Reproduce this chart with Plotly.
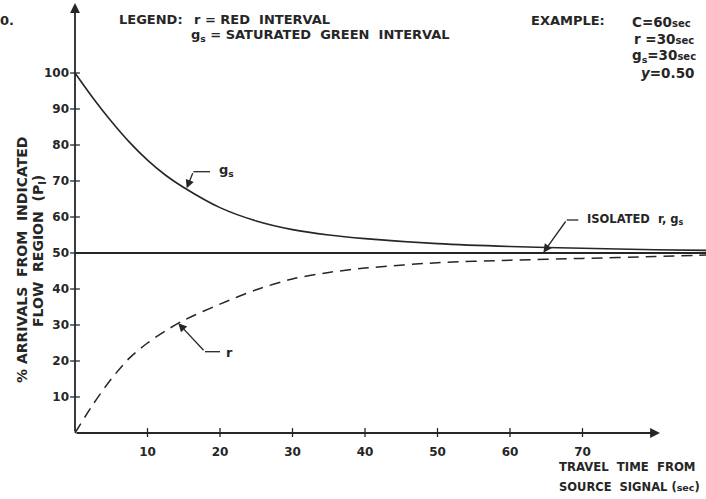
import plotly.graph_objects as go

# ---------------- data ----------------
time_s = [0, 2.5, 5, 7.5, 10, 12.5, 15, 20, 25, 30, 35, 40, 50, 60, 70, 80, 88]
pct_green = [100, 93.0, 86.6, 80.8, 75.8, 71.6, 68.2, 62.6, 58.9, 56.5, 55.0, 54.0, 52.6, 51.8, 51.3, 50.9, 50.7]
pct_red = [0, 8.0, 15.0, 20.8, 25.0, 28.4, 31.3, 35.8, 39.8, 42.8, 44.6, 45.8, 47.3, 48.0, 48.5, 49.0, 49.5]
isolated_time = [0, 88]
isolated_pct = [50, 50]
x_ticks = [10, 20, 30, 40, 50, 60, 70]
y_ticks = [10, 20, 30, 40, 50, 60, 70, 80, 90, 100]

# ---------------- layout geometry ----------------
W, H = 706, 499
L, R, T, B = 70, 0, 0, 62
X0PX, XS = 75, 7.25     # pixel of x=0, pixels per second
Y0PX, YS = 433, 3.6     # pixel of y=0, pixels per percent
xr = [(L - X0PX) / XS, (W - R - X0PX) / XS]
yr = [(Y0PX - (H - B)) / YS, (Y0PX - T) / YS]


def dx(px):
    return (px - X0PX) / XS


def dy(py):
    return (Y0PX - py) / YS


def pxp(px):
    return (px - L) / (W - L - R)


def pyp(py):
    return (H - B - py) / (H - T - B)


INK = "#262626"
FONT = "DejaVu Sans"

fig = go.Figure()

fig.add_trace(go.Scatter(x=isolated_time, y=isolated_pct, mode="lines",
                         line=dict(color=INK, width=1.8), hoverinfo="skip"))
fig.add_trace(go.Scatter(x=time_s, y=pct_green, mode="lines",
                         line=dict(color=INK, width=1.6, shape="spline", smoothing=0.8),
                         hoverinfo="skip"))
fig.add_trace(go.Scatter(x=time_s, y=pct_red, mode="lines",
                         line=dict(color=INK, width=1.5, dash="11px,7px", shape="spline", smoothing=0.8),
                         hoverinfo="skip"))
# tick crosses on the axes
fig.add_trace(go.Scatter(x=[0] * len(y_ticks), y=y_ticks, mode="markers",
                         marker=dict(symbol="line-ew", size=7, line=dict(color=INK, width=1.3)),
                         hoverinfo="skip"))
fig.add_trace(go.Scatter(x=x_ticks, y=[0] * len(x_ticks), mode="markers",
                         marker=dict(symbol="line-ns", size=7, line=dict(color=INK, width=1.3)),
                         hoverinfo="skip"))

ann = []
# axis lines with arrowheads
ann.append(dict(x=0, y=dy(3), ax=0, ay=0, xref="x", yref="y", axref="x", ayref="y",
                text="", showarrow=True, arrowhead=2, arrowsize=1.1, arrowwidth=1.8, arrowcolor=INK))
ann.append(dict(x=dx(660), y=0, ax=0, ay=0, xref="x", yref="y", axref="x", ayref="y",
                text="", showarrow=True, arrowhead=2, arrowsize=1.1, arrowwidth=1.8, arrowcolor=INK))

# pointer lines (oblique part with arrowhead)
pointers = [
    ((186.7, 188.3), (193.3, 171.7), (210, 171.7)),
    ((178.3, 323.3), (205, 351.7), (220, 351.7)),
    ((543.3, 252.7), (566.7, 220), (578.3, 220)),
]
shapes = []
for tip, bend, end in pointers:
    ann.append(dict(x=dx(tip[0]), y=dy(tip[1]), ax=dx(bend[0]), ay=dy(bend[1]),
                    xref="x", yref="y", axref="x", ayref="y", text="", showarrow=True,
                    arrowhead=2, arrowsize=1.3, arrowwidth=1.3, arrowcolor=INK))
    shapes.append(dict(type="line", xref="x", yref="y", x0=dx(bend[0]), y0=dy(bend[1]),
                       x1=dx(end[0]), y1=dy(end[1]), line=dict(color=INK, width=1.3)))


def text(s, px, py, size=13, xanchor="left", textangle=0):
    ann.append(dict(x=pxp(px), y=pyp(py), xref="paper", yref="paper", text=s,
                    showarrow=False, xanchor=xanchor, yanchor="middle", textangle=textangle,
                    font=dict(family=FONT, size=size, color=INK, weight="bold")))


text("0.", -2, 21, 13)
text("LEGEND:", 117, 20, 13)
text("r = RED  INTERVAL", 192, 20, 13)
text("g<sub>s</sub> = SATURATED  GREEN  INTERVAL", 189, 36, 13)
text("EXAMPLE:", 529, 21, 13)
text("C=60<span style='font-size:10px'>sec</span>", 630, 22, 13.5)
text("r =30<span style='font-size:10px'>sec</span>", 632, 39, 13.5)
text("g<sub>s</sub>=30<span style='font-size:10px'>sec</span>", 630, 56, 13.5)
text("<i>y</i>=0.50", 639, 73, 13.5)

text("g<sub>s</sub>", 217, 171, 13)
text("r", 224, 352, 13)
text("ISOLATED  r, g<sub>s</sub>", 585, 220, 11.5)

text("TRAVEL  TIME  FROM", 557, 467, 11.7)
text("SOURCE  SIGNAL (<span style='font-size:9.5px'>sec</span>)", 557, 487, 11.5)

text("% ARRIVALS  FROM  INDICATED", 22, 260, 14, xanchor="center", textangle=-90)
text("FLOW  REGION  (P<sub>I</sub>)", 39, 251, 14, xanchor="center", textangle=-90)

fig.update_layout(
    width=W, height=H,
    margin=dict(l=L, r=R, t=T, b=B, pad=0),
    paper_bgcolor="white", plot_bgcolor="white",
    showlegend=False,
    annotations=ann, shapes=shapes,
    xaxis=dict(range=xr, showgrid=False, zeroline=False, showline=False, ticks="",
               tickvals=x_ticks, ticktext=[str(v) for v in x_ticks], ticklabelstandoff=6,
               tickfont=dict(family=FONT, size=12, color=INK, weight="bold")),
    yaxis=dict(range=yr, showgrid=False, zeroline=False, showline=False, ticks="",
               tickvals=y_ticks, ticktext=[str(v) for v in y_ticks], ticklabelstandoff=0,
               tickfont=dict(family=FONT, size=12, color=INK, weight="bold")),
)

fig.write_html("out.html", config={"displayModeBar": False},
               post_script="document.body.style.margin='0px';document.body.style.overflow='hidden';")
